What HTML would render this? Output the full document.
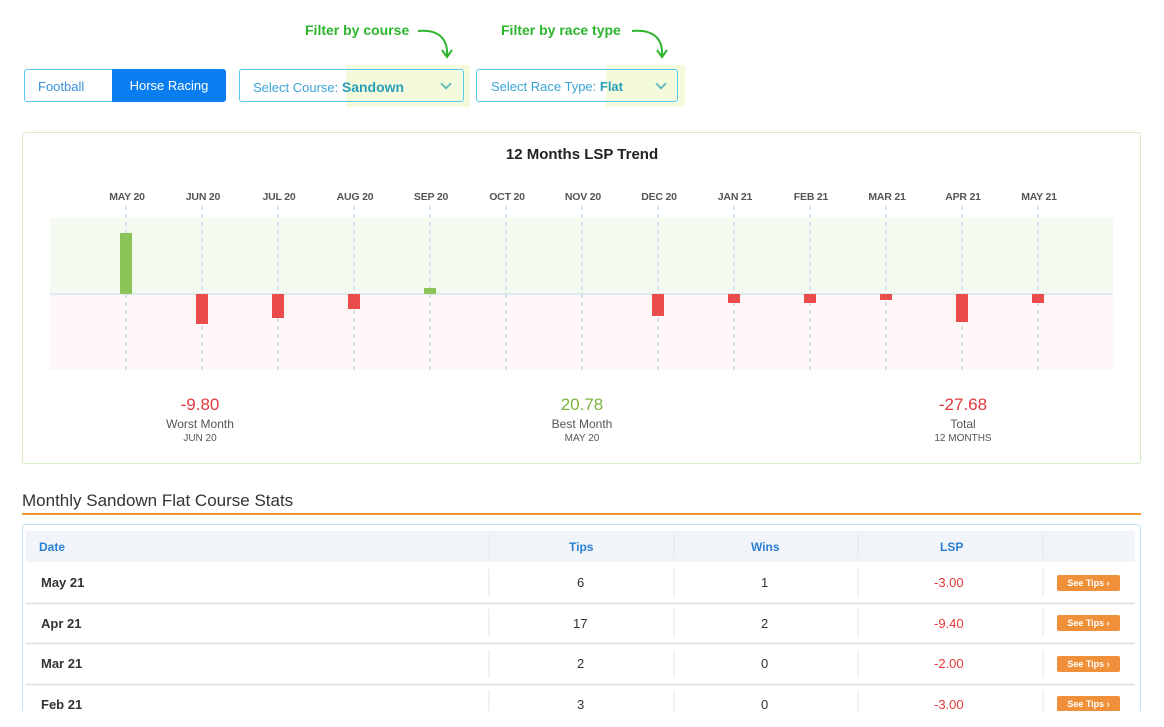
<!DOCTYPE html><html><head><style>
html,body{margin:0;width:1164px;height:727px;overflow:hidden}
body{background:#fff;font-family:"Liberation Sans",sans-serif;position:relative}
.a{position:absolute}
.lbl{font-size:10.5px;font-weight:bold;color:#555;transform:translateX(-50%);letter-spacing:-0.2px}
.t{font-size:13px;color:#333}
.chev{width:6px;height:6px;border-right:2px solid #6bb;border-bottom:2px solid #6bb;transform:rotate(45deg)}
</style></head><body>
<div class="a" style="left:305px;top:22px;font-size:14px;font-weight:bold;color:#2db52d">Filter by course</div>
<div class="a" style="left:501px;top:22px;font-size:14px;font-weight:bold;color:#2db52d">Filter by race type</div>
<svg class="a" style="left:0;top:0" width="1164" height="70"><g fill="none" stroke="#2db52d" stroke-width="2"><path d="M418 31 C440 29 448 40 447 56"/><path d="M442 50 L447 57 L452 50"/><path d="M632 31 C655 29 663 40 662 56"/><path d="M657 50 L662 57 L667 50"/></g></svg>
<div class="a" style="left:24px;top:69px;width:201px;height:33px;border:1px solid #5bc8f0;border-radius:3px;box-sizing:border-box"></div>
<div class="a" style="left:38px;top:79px;font-size:13px;color:#3a8fd8">Football</div>
<div class="a" style="left:112px;top:69px;width:114px;height:33px;background:#0a7ef0;border-radius:0 3px 3px 0;color:#fff;font-size:13px;line-height:33px;text-align:center">Horse Racing</div>
<div class="a" style="left:346px;top:65px;width:124px;height:42px;background:#f4fbdc"></div>
<div class="a" style="left:606px;top:65px;width:79px;height:42px;background:#f4fbdc"></div>
<div class="a" style="left:239px;top:69px;width:225px;height:33px;border:1px solid #5bc8f0;border-radius:3px;box-sizing:border-box"></div>
<div class="a" style="left:253px;top:79px;font-size:13px;color:#3ba4d8">Select Course: <b style="color:#28a0b8;font-size:14px">Sandown</b></div>
<div class="a chev" style="left:442px;top:80px"></div>
<div class="a" style="left:476px;top:69px;width:202px;height:33px;border:1px solid #5bc8f0;border-radius:3px;box-sizing:border-box"></div>
<div class="a" style="left:491px;top:79px;font-size:13px;color:#3ba4d8">Select Race Type: <b style="color:#28a0b8">Flat</b></div>
<div class="a chev" style="left:657px;top:80px"></div>
<div class="a" style="left:22px;top:132px;width:1119px;height:332px;border:1px solid #d6ecc6;border-radius:3px;box-sizing:border-box"></div>
<div class="a" style="left:0;width:1164px;top:146px;text-align:center;font-size:15px;font-weight:bold;color:#222">12 Months LSP Trend</div>
<svg class="a" style="left:0;top:0" width="1164" height="400">
<rect x="50" y="218" width="1063" height="76" fill="#f5faf0"/><rect x="50" y="294" width="1063" height="76" fill="#fff7f7"/>
<g stroke="#a9cde8" stroke-dasharray="4,4"><path d="M126 206V370M202 206V370M278 206V370M354 206V370M430 206V370M506 206V370M582 206V370M658 206V370M734 206V370M810 206V370M886 206V370M962 206V370M1038 206V370"/></g>
<line x1="50" x2="1113" y1="294" y2="294" stroke="#bcdcf0"/>
<g fill="#8bc55a"><rect x="120" y="233" width="12" height="61"/><rect x="424" y="288" width="12" height="6"/></g>
<g fill="#ea4b4b"><rect x="196" y="294" width="12" height="30"/><rect x="272" y="294" width="12" height="24"/><rect x="348" y="294" width="12" height="15"/><rect x="652" y="294" width="12" height="22"/><rect x="728" y="294" width="12" height="9"/><rect x="804" y="294" width="12" height="9"/><rect x="880" y="294" width="12" height="6"/><rect x="956" y="294" width="12" height="28"/><rect x="1032" y="294" width="12" height="9"/></g>
</svg>
<div class="a lbl" style="left:127px;top:191px">MAY 20</div><div class="a lbl" style="left:203px;top:191px">JUN 20</div><div class="a lbl" style="left:279px;top:191px">JUL 20</div><div class="a lbl" style="left:355px;top:191px">AUG 20</div><div class="a lbl" style="left:431px;top:191px">SEP 20</div><div class="a lbl" style="left:507px;top:191px">OCT 20</div><div class="a lbl" style="left:583px;top:191px">NOV 20</div><div class="a lbl" style="left:659px;top:191px">DEC 20</div><div class="a lbl" style="left:735px;top:191px">JAN 21</div><div class="a lbl" style="left:811px;top:191px">FEB 21</div><div class="a lbl" style="left:887px;top:191px">MAR 21</div><div class="a lbl" style="left:963px;top:191px">APR 21</div><div class="a lbl" style="left:1039px;top:191px">MAY 21</div>
<div class="a" style="left:100px;width:200px;top:395px;text-align:center"><div style="font-size:17px;color:#e0383e">-9.80</div><div style="font-size:12px;color:#555;margin-top:2px">Worst Month</div><div style="font-size:10px;color:#555;margin-top:2px">JUN 20</div></div>
<div class="a" style="left:482px;width:200px;top:395px;text-align:center"><div style="font-size:17px;color:#7cb342">20.78</div><div style="font-size:12px;color:#555;margin-top:2px">Best Month</div><div style="font-size:10px;color:#555;margin-top:2px">MAY 20</div></div>
<div class="a" style="left:863px;width:200px;top:395px;text-align:center"><div style="font-size:17px;color:#e0383e">-27.68</div><div style="font-size:12px;color:#555;margin-top:2px">Total</div><div style="font-size:10px;color:#555;margin-top:2px">12 MONTHS</div></div>
<div class="a" style="left:22px;top:491px;font-size:17px;color:#333">Monthly Sandown Flat Course Stats</div>
<div class="a" style="left:22px;top:513px;width:1119px;height:2px;background:#f0962a"></div>
<div class="a" style="left:22px;top:524px;width:1119px;height:210px;border:1px solid #bfe3f6;border-radius:4px;box-sizing:border-box"></div>
<div class="a" style="left:26px;top:531px;width:1109px;height:31px;background:#f1f5f9"></div>
<div class="a" style="left:39px;top:540px;font-size:12px;font-weight:bold;color:#2a7fd4">Date</div>
<div class="a" style="left:569px;top:540px;font-size:12px;font-weight:bold;color:#2a7fd4">Tips</div>
<div class="a" style="left:751px;top:540px;font-size:12px;font-weight:bold;color:#2a7fd4">Wins</div>
<div class="a" style="left:940px;top:540px;font-size:12px;font-weight:bold;color:#2a7fd4">LSP</div>
<svg class="a" style="left:0;top:0" width="1164" height="727"><g stroke="#e2e6ea"><path d="M489 534V558M674 534V558M858 534V558M1043 534V558M489 569V597M674 569V597M858 569V597M1043 569V597M489 609V637M674 609V637M858 609V637M1043 609V637M489 650V678M674 650V678M858 650V678M1043 650V678M489 690V718M674 690V718M858 690V718M1043 690V718"/><path d="M26 603.5H1135M26 643.5H1135M26 684.5H1135" stroke-width="2"/></g></svg>
<div class="a" style="top:575px;left:0"><div class="a t" style="left:41px;font-weight:bold;width:80px">May 21</div><div class="a t" style="left:577px">6</div><div class="a t" style="left:761px">1</div><div class="a t" style="left:934px;color:#e53935">-3.00</div></div>
<div class="a" style="top:616px;left:0"><div class="a t" style="left:41px;font-weight:bold;width:80px">Apr 21</div><div class="a t" style="left:573px">17</div><div class="a t" style="left:761px">2</div><div class="a t" style="left:934px;color:#e53935">-9.40</div></div>
<div class="a" style="top:656px;left:0"><div class="a t" style="left:41px;font-weight:bold;width:80px">Mar 21</div><div class="a t" style="left:577px">2</div><div class="a t" style="left:761px">0</div><div class="a t" style="left:934px;color:#e53935">-2.00</div></div>
<div class="a" style="top:697px;left:0"><div class="a t" style="left:41px;font-weight:bold;width:80px">Feb 21</div><div class="a t" style="left:577px">3</div><div class="a t" style="left:761px">0</div><div class="a t" style="left:934px;color:#e53935">-3.00</div></div>
<div class="a" style="left:1057px;top:575px;width:63px;height:16px;background:#f0903a;border-radius:2px;color:#fff;font-size:9px;font-weight:bold;line-height:16px;text-align:center">See Tips ›</div>
<div class="a" style="left:1057px;top:615px;width:63px;height:16px;background:#f0903a;border-radius:2px;color:#fff;font-size:9px;font-weight:bold;line-height:16px;text-align:center">See Tips ›</div>
<div class="a" style="left:1057px;top:656px;width:63px;height:16px;background:#f0903a;border-radius:2px;color:#fff;font-size:9px;font-weight:bold;line-height:16px;text-align:center">See Tips ›</div>
<div class="a" style="left:1057px;top:696px;width:63px;height:16px;background:#f0903a;border-radius:2px;color:#fff;font-size:9px;font-weight:bold;line-height:16px;text-align:center">See Tips ›</div>
<div class="a" style="left:0;top:711px;width:1164px;height:16px;background:#fff"></div>
</body></html>
